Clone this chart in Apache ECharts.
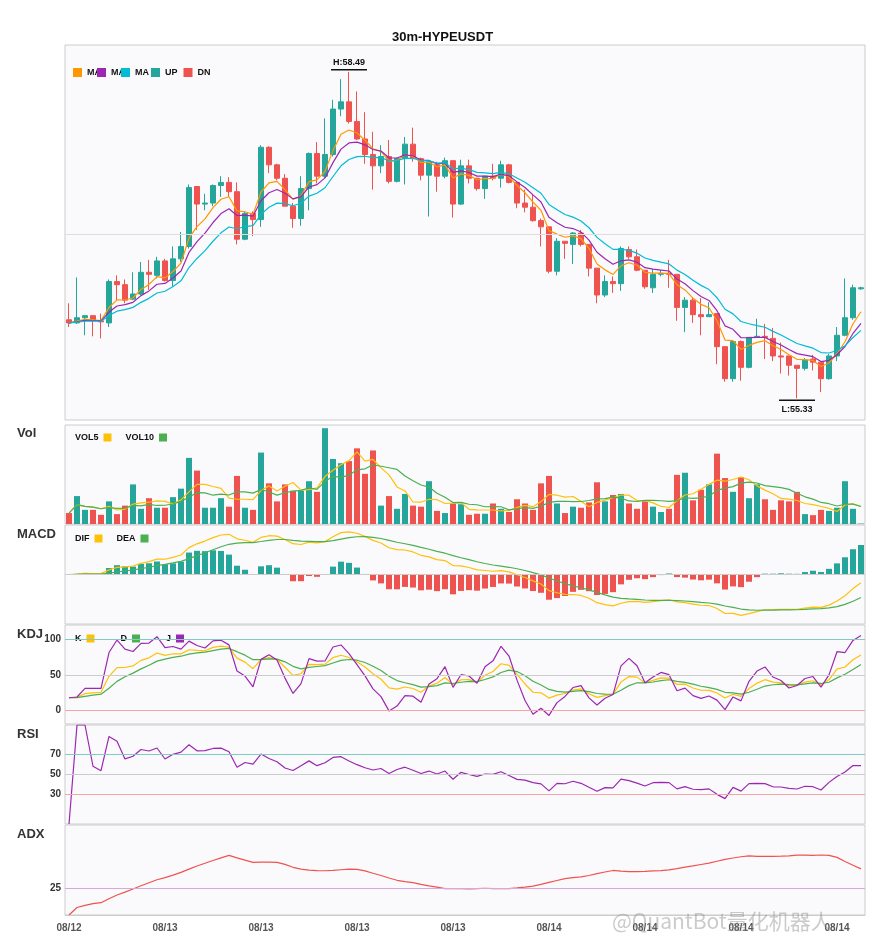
<!DOCTYPE html>
<html>
<head>
<meta charset="utf-8">
<script src="https://cdn.jsdelivr.net/npm/echarts@6/dist/echarts.min.js"></script>
<style>html,body{margin:0;padding:0;background:#fff}#chart{width:885px;height:950px}</style>
</head>
<body>
<div id="chart"></div>
<script>
// 30m candles, [open, close, low, high]
var candles = [
    [56.09,56.06,56.02,56.25],[56.06,56.11,56.05,56.50],[56.11,56.13,55.94,56.13],[56.13,56.08,55.93,56.13],
    [56.08,56.07,55.91,56.15],[56.06,56.46,56.02,56.48],[56.46,56.43,56.28,56.52],[56.43,56.28,56.25,56.48],
    [56.29,56.34,56.28,56.55],[56.34,56.55,56.33,56.65],[56.55,56.53,56.38,56.67],[56.52,56.66,56.49,56.70],
    [56.66,56.47,56.46,56.68],[56.47,56.68,56.41,56.80],[56.68,56.80,56.65,56.94],[56.80,57.37,56.78,57.40],
    [57.38,57.21,56.96,57.38],[57.21,57.22,57.15,57.31],[57.22,57.39,57.19,57.40],[57.39,57.42,57.28,57.48],
    [57.42,57.33,57.28,57.47],[57.33,56.87,56.82,57.42],[56.87,57.12,56.86,57.14],[57.12,57.06,56.90,57.14],
    [57.06,57.76,56.99,57.78],[57.76,57.59,57.51,57.77],[57.59,57.46,57.44,57.60],[57.46,57.19,57.19,57.50],
    [57.19,57.07,56.98,57.22],[57.07,57.36,57.00,57.48],[57.36,57.70,57.15,57.71],[57.70,57.48,57.41,57.81],
    [57.48,57.69,57.46,58.04],[57.69,58.13,57.67,58.22],[58.13,58.20,58.06,58.42],[58.20,58.01,57.99,58.49],
    [58.01,57.84,57.83,58.30],[57.84,57.69,57.60,58.10],[57.69,57.58,57.35,57.91],[57.58,57.67,57.51,57.78],
    [57.67,57.43,57.41,57.83],[57.43,57.65,57.42,57.66],[57.65,57.79,57.40,57.86],[57.79,57.65,57.62,57.95],
    [57.65,57.49,57.44,57.66],[57.49,57.62,57.09,57.63],[57.59,57.48,57.33,57.62],[57.48,57.63,57.46,57.66],
    [57.63,57.21,57.08,57.63],[57.21,57.58,57.20,57.64],[57.58,57.46,57.41,57.64],[57.46,57.36,57.34,57.46],
    [57.36,57.48,57.26,57.48],[57.48,57.46,57.44,57.60],[57.46,57.59,57.37,57.63],[57.59,57.42,57.41,57.60],
    [57.42,57.22,57.17,57.42],[57.22,57.18,57.13,57.35],[57.18,57.05,57.04,57.30],[57.05,56.99,56.80,57.07],
    [56.99,56.56,56.54,56.99],[56.56,56.85,56.52,56.88],[56.85,56.83,56.68,56.85],[56.82,56.93,56.63,56.94],
    [56.93,56.82,56.80,56.96],[56.82,56.59,56.51,56.82],[56.59,56.33,56.25,56.59],[56.33,56.46,56.31,56.52],
    [56.46,56.44,56.35,56.51],[56.44,56.78,56.37,56.80],[56.77,56.70,56.68,56.80],[56.70,56.57,56.56,56.77],
    [56.57,56.41,56.39,56.57],[56.40,56.53,56.35,56.58],[56.53,56.54,56.51,56.57],[56.54,56.53,56.40,56.67],
    [56.53,56.21,56.08,56.53],[56.21,56.28,55.97,56.31],[56.28,56.14,56.06,56.31],[56.14,56.12,55.94,56.30],
    [56.12,56.14,56.12,56.26],[56.15,55.83,55.66,56.15],[55.83,55.52,55.49,55.83],[55.52,55.88,55.49,55.89],
    [55.88,55.63,55.50,55.89],[55.63,55.92,55.62,55.92],[55.92,55.93,55.92,56.10],[55.93,55.92,55.71,56.05],
    [55.91,55.74,55.69,56.01],[55.74,55.73,55.57,55.87],[55.74,55.65,55.55,55.74],[55.65,55.62,55.33,55.65],
    [55.62,55.70,55.60,55.72],[55.71,55.68,55.60,55.75],[55.68,55.52,55.39,55.68],[55.52,55.74,55.51,55.76],
    [55.74,55.94,55.69,56.02],[55.94,56.11,55.93,56.49],[56.11,56.40,56.09,56.43],[56.39,56.40,56.38,56.41]
];
var volumes = [
    31,79,40,40,26,64,28,52,112,43,73,46,46,76,100,187,151,46,46,73,
    49,136,46,40,202,115,64,112,94,94,121,91,271,184,172,178,214,142,208,52,
    79,43,85,52,49,121,37,31,58,56,26,29,29,58,43,34,70,58,40,115,
    136,58,31,49,46,61,118,64,82,85,58,43,64,49,34,43,139,145,67,97,
    112,199,130,91,133,73,112,70,40,67,64,91,28,25,40,37,46,121,43,1
];
var startTime = Date.UTC(2025, 7, 12, 18, 0);

var UP = '#26a69a', DN = '#ef5350';

var times = [];
for (var i = 0; i < candles.length; i++) {
    var d = new Date(startTime + i * 1800000);
    var mm = ('0' + (d.getUTCMonth() + 1)).slice(-2), dd = ('0' + d.getUTCDate()).slice(-2);
    times.push(mm + '/' + dd + ' ' + ('0' + d.getUTCHours()).slice(-2) + ':' + ('0' + d.getUTCMinutes()).slice(-2));
}
var closes = candles.map(function (c) { return c[1]; });
var highs = candles.map(function (c) { return c[3]; });
var lows = candles.map(function (c) { return c[2]; });

function ma(arr, n) {
    var out = [];
    for (var i = 0; i < arr.length; i++) {
        var s = 0, k = 0;
        for (var j = Math.max(0, i - n + 1); j <= i; j++) { s += arr[j]; k++; }
        out.push(+(s / k).toFixed(4));
    }
    return out;
}
function ema(arr, n) {
    var out = [], a = 2 / (n + 1);
    for (var i = 0; i < arr.length; i++) out.push(i === 0 ? arr[0] : a * arr[i] + (1 - a) * out[i - 1]);
    return out;
}
// MACD
var e12 = ema(closes, 12), e26 = ema(closes, 26);
var dif = e12.map(function (v, i) { return v - e26[i]; });
var dea = ema(dif, 9);
var hist = dif.map(function (v, i) { return 2 * (v - dea[i]); });
// KDJ
var kArr = [], dArr = [], jArr = [];
for (i = 0; i < closes.length; i++) {
    var hh = -1e9, ll = 1e9;
    for (var j = Math.max(0, i - 8); j <= i; j++) { hh = Math.max(hh, highs[j]); ll = Math.min(ll, lows[j]); }
    var rsv = hh === ll ? 50 : (closes[i] - ll) / (hh - ll) * 100;
    var k = i === 0 ? rsv : (2 * kArr[i - 1] + rsv) / 3;
    var dv = i === 0 ? rsv : (2 * dArr[i - 1] + k) / 3;
    kArr.push(k); dArr.push(dv); jArr.push(3 * k - 2 * dv);
}
// RSI 14 (Wilder)
var rsi = [0], ag = 0, al = 0;
for (i = 1; i < closes.length; i++) {
    var ch = closes[i] - closes[i - 1];
    var gg = ch > 0 ? ch : 0, lv = ch < 0 ? -ch : 0;
    var n = Math.min(i, 14);
    ag = (ag * (n - 1) + gg) / n; al = (al * (n - 1) + lv) / n;
    rsi.push(ag + al === 0 ? 0 : ag / (ag + al) * 100);
}
// ADX 14
var trS = 0, pS = 0, mS = 0, adx = [];
for (i = 0; i < closes.length; i++) {
    var tr = i === 0 ? highs[0] - lows[0] : Math.max(highs[i] - lows[i], Math.abs(highs[i] - closes[i - 1]), Math.abs(lows[i] - closes[i - 1]));
    var up = i === 0 ? 0 : highs[i] - highs[i - 1], dn = i === 0 ? 0 : lows[i - 1] - lows[i];
    var pdm = up > dn && up > 0 ? up : 0, mdm = dn > up && dn > 0 ? dn : 0;
    trS = trS - trS / 14 + tr; pS = pS - pS / 14 + pdm; mS = mS - mS / 14 + mdm;
    var pdi = pS / trS * 100, mdi = mS / trS * 100;
    var dx = pdi + mdi === 0 ? 0 : Math.abs(pdi - mdi) / (pdi + mdi) * 100;
    adx.push(i === 0 ? dx : (adx[i - 1] * 13 + dx) / 14);
}

var grids = [
    {top: 45, height: 375},
    {top: 425, height: 99},
    {top: 525, height: 99},
    {top: 625, height: 99},
    {top: 725, height: 99},
    {top: 825, height: 90}
].map(function (g) {
    g.left = 65; g.right = 20; g.show = true;
    g.backgroundColor = '#fafafc'; g.borderColor = '#ccc'; g.borderWidth = 1;
    return g;
});
var xAxes = grids.map(function (g, idx) {
    return {
        type: 'category', gridIndex: idx, data: times, boundaryGap: true,
        axisLine: {show: idx === 5, lineStyle: {color: '#ccc'}}, axisTick: {show: false},
        axisLabel: {
            show: idx === 5, interval: 11, color: '#555', fontSize: 10, fontWeight: 'bold',
            formatter: function (v) { return v.substr(0, 5); }
        },
        splitLine: {show: false}
    };
});
function yAx(idx, extra) {
    var o = {
        type: 'value', gridIndex: idx, scale: true,
        axisLine: {show: false}, axisTick: {show: false}, axisLabel: {show: false},
        splitLine: {show: false}
    };
    for (var p in extra) o[p] = extra[p];
    return o;
}
var yAxes = [
    yAx(0, {min: 55.12, max: 58.75}),
    yAx(1, {min: 0, max: 280, scale: false}),
    yAx(2, {}),
    yAx(3, {min: -20, max: 121}),
    yAx(4, {min: 0, max: 100}),
    yAx(5, {
        min: function (v) { return v.min; },
        max: function (v) { return v.max + (v.max - v.min) * 0.5; }
    })
];
function hline(v, color, label) {
    return {yAxis: v, lineStyle: {color: color, type: 'solid', width: 1}, label: label ? {show: true, position: 'start', formatter: label, color: '#333', fontSize: 10, fontWeight: 'bold', distance: 4} : {show: false}};
}
function line(name, data, color, xi, extra) {
    var s = {name: name, type: 'line', data: data, xAxisIndex: xi, yAxisIndex: xi, showSymbol: false,
        lineStyle: {width: 1.2, color: color}, itemStyle: {color: color}, silent: true};
    for (var p in extra) s[p] = extra[p];
    return s;
}
function ml(lines) { return {silent: true, symbol: 'none', data: lines}; }

var volData = volumes.map(function (v, i) {
    return {value: v, itemStyle: {color: candles[i][1] >= candles[i][0] ? UP : DN}};
});
var histData = hist.map(function (v) { return {value: v, itemStyle: {color: v >= 0 ? UP : DN}}; });
var legTxt = {fontSize: 9, fontWeight: 'bold', color: '#111'};

var option = {
    animation: false,
    backgroundColor: '#fff',
    title: {text: '30m-HYPEUSDT', left: 'center', top: 26, textStyle: {fontSize: 13, fontWeight: 'bold', color: '#111'}},
    legend: [
        {data: ['MA5', 'MA8', 'MA13'], left: 68, top: 63, itemWidth: 9, itemHeight: 9, itemGap: -4, icon: 'rect',
            formatter: function () { return 'MA'; }, textStyle: legTxt},
        {data: ['UP', 'DN'], left: 146, top: 63, itemWidth: 9, itemHeight: 9, itemGap: 6, icon: 'rect', textStyle: legTxt},
        {data: ['VOL5', 'VOL10'], left: 70, top: 428, itemWidth: 8, itemHeight: 8, itemGap: 14, icon: 'rect', align: 'right', textStyle: legTxt},
        {data: ['DIF', 'DEA'], left: 70, top: 529, itemWidth: 8, itemHeight: 8, itemGap: 14, icon: 'rect', align: 'right', textStyle: legTxt},
        {data: ['K', 'D', 'J'], left: 70, top: 629, itemWidth: 8, itemHeight: 8, itemGap: 26, icon: 'rect', align: 'right', textStyle: legTxt}
    ],
    grid: grids,
    xAxis: xAxes,
    yAxis: yAxes,
    graphic: [
        {type: 'text', left: 17, top: 427, style: {text: 'Vol', font: 'bold 13px sans-serif', fill: '#333'}},
        {type: 'text', left: 17, top: 528, style: {text: 'MACD', font: 'bold 13px sans-serif', fill: '#333'}},
        {type: 'text', left: 17, top: 628, style: {text: 'KDJ', font: 'bold 13px sans-serif', fill: '#333'}},
        {type: 'text', left: 17, top: 728, style: {text: 'RSI', font: 'bold 13px sans-serif', fill: '#333'}},
        {type: 'text', left: 17, top: 828, style: {text: 'ADX', font: 'bold 13px sans-serif', fill: '#333'}},
        {type: 'text', left: 612, top: 911, z: 100, style: {text: '@QuantBot量化机器人', font: '21px "Noto Sans CJK SC", sans-serif', fill: 'rgba(140,140,140,0.45)'}}
    ],
    series: [
        {
            name: 'K线', type: 'candlestick', data: candles, xAxisIndex: 0, yAxisIndex: 0, barWidth: 5,
            itemStyle: {color: UP, color0: DN, borderColor: UP, borderColor0: DN, borderWidth: 1},
            markLine: ml([{yAxis: 56.92, lineStyle: {color: '#ddd', type: 'solid', width: 1}, label: {show: false}}]),
            markPoint: {
                silent: true,
                data: [
                    {coord: [35, 58.49], symbol: 'rect', symbolSize: [36, 1.5], symbolOffset: [0, -2], itemStyle: {color: '#111'},
                        label: {show: true, position: 'top', distance: 2, formatter: 'H:58.49', color: '#111', fontSize: 9, fontWeight: 'bold'}},
                    {coord: [91, 55.33], symbol: 'rect', symbolSize: [36, 1.5], symbolOffset: [0, 2], itemStyle: {color: '#111'},
                        label: {show: true, position: 'bottom', distance: 4, formatter: 'L:55.33', color: '#111', fontSize: 9, fontWeight: 'bold'}}
                ]
            }
        },
        line('MA5', ema(closes, 5), '#ff9800', 0),
        line('MA8', ema(closes, 8), '#9c27b0', 0),
        line('MA13', ema(closes, 13), '#00bcd4', 0),
        {name: 'UP', type: 'bar', data: [], xAxisIndex: 0, yAxisIndex: 0, itemStyle: {color: UP}},
        {name: 'DN', type: 'bar', data: [], xAxisIndex: 0, yAxisIndex: 0, itemStyle: {color: DN}},

        {name: 'Vol', type: 'bar', data: volData, xAxisIndex: 1, yAxisIndex: 1, barWidth: 6},
        line('VOL5', ma(volumes, 5), '#ffc107', 1),
        line('VOL10', ma(volumes, 10), '#4caf50', 1),

        {name: 'MACD', type: 'bar', data: histData, xAxisIndex: 2, yAxisIndex: 2, barWidth: 6,
            markLine: ml([{yAxis: 0, lineStyle: {color: '#ccc', type: 'solid', width: 1}, label: {show: false}}])},
        line('DIF', dif, '#ffc107', 2),
        line('DEA', dea, '#4caf50', 2),

        line('K', kArr, '#ffc107', 3, {markLine: ml([hline(100, '#80cbc4', '100'), hline(50, '#ccc', '50'), hline(0, '#f5a5a5', '0')])}),
        line('D', dArr, '#4caf50', 3),
        line('J', jArr, '#9c27b0', 3),

        line('RSI', rsi, '#9c27b0', 4, {markLine: ml([hline(70, '#80cbc4', '70'), hline(50, '#ccc', '50'), hline(30, '#f5a5a5', '30')])}),

        line('ADX', adx, '#ef5350', 5, {markLine: ml([hline(25, '#d7a8e0', '25')])})
    ]
};
var myChart = echarts.init(document.getElementById('chart'));
myChart.setOption(option);
</script>
</body>
</html>
